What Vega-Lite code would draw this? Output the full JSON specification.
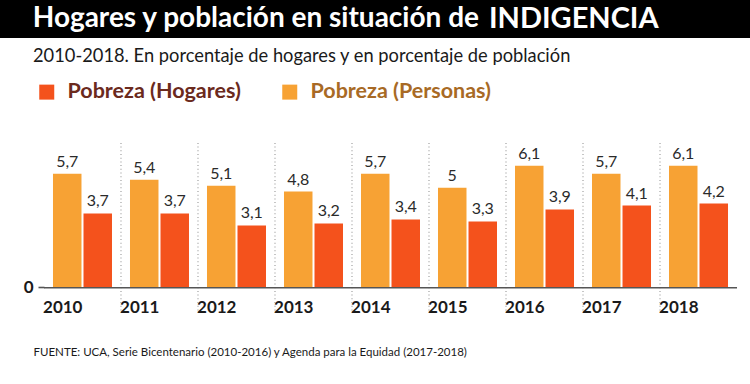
{
  "$schema": "https://vega.github.io/schema/vega-lite/v6.json",
  "padding": 0,
  "background": "white",
  "spacing": 8,
  "config": {
    "view": {"stroke": null},
    "font": "Lato",
    "locale": {"number": {"decimal": ",", "thousands": ".", "grouping": [3], "currency": ["$", ""]}}
  },
  "datasets": {
    "ind": [
      {"year": "2010", "serie": "Pobreza (Personas)", "v": 5.7},
      {"year": "2010", "serie": "Pobreza (Hogares)", "v": 3.7},
      {"year": "2011", "serie": "Pobreza (Personas)", "v": 5.4},
      {"year": "2011", "serie": "Pobreza (Hogares)", "v": 3.7},
      {"year": "2012", "serie": "Pobreza (Personas)", "v": 5.1},
      {"year": "2012", "serie": "Pobreza (Hogares)", "v": 3.1},
      {"year": "2013", "serie": "Pobreza (Personas)", "v": 4.8},
      {"year": "2013", "serie": "Pobreza (Hogares)", "v": 3.2},
      {"year": "2014", "serie": "Pobreza (Personas)", "v": 5.7},
      {"year": "2014", "serie": "Pobreza (Hogares)", "v": 3.4},
      {"year": "2015", "serie": "Pobreza (Personas)", "v": 5},
      {"year": "2015", "serie": "Pobreza (Hogares)", "v": 3.3},
      {"year": "2016", "serie": "Pobreza (Personas)", "v": 6.1},
      {"year": "2016", "serie": "Pobreza (Hogares)", "v": 3.9},
      {"year": "2017", "serie": "Pobreza (Personas)", "v": 5.7},
      {"year": "2017", "serie": "Pobreza (Hogares)", "v": 4.1},
      {"year": "2018", "serie": "Pobreza (Personas)", "v": 6.1},
      {"year": "2018", "serie": "Pobreza (Hogares)", "v": 4.2}
    ],
    "seps": [
      {"year": "2010"}, {"year": "2011"}, {"year": "2012"}, {"year": "2013"},
      {"year": "2014"}, {"year": "2015"}, {"year": "2016"}, {"year": "2017"}
    ],
    "years": [
      {"year": "2010"}, {"year": "2011"}, {"year": "2012"}, {"year": "2013"},
      {"year": "2014"}, {"year": "2015"}, {"year": "2016"}, {"year": "2017"}, {"year": "2018"}
    ]
  },
  "vconcat": [
    {
      "width": 750,
      "height": 38,
      "view": {"fill": "#000000", "stroke": null},
      "data": {"values": [{"a": "Hogares y población en situación de", "b": "INDIGENCIA"}]},
      "layer": [
        {
          "mark": {"type": "text", "align": "right", "baseline": "middle", "color": "#ffffff", "font": "Lato", "fontWeight": "bold", "fontSize": 28, "dx": 104},
          "encoding": {"text": {"field": "a"}}
        },
        {
          "mark": {"type": "text", "align": "left", "baseline": "middle", "color": "#ffffff", "font": "Lato", "fontWeight": "bold", "fontSize": 29, "dx": 114},
          "encoding": {"text": {"field": "b"}}
        }
      ]
    },
    {
      "width": 750,
      "height": 159,
      "title": {
        "text": "2010-2018. En porcentaje de hogares y en porcentaje de población",
        "anchor": "start",
        "frame": "group",
        "dx": 33,
        "offset": 62,
        "font": "Lato",
        "fontSize": 18.3,
        "fontWeight": "normal",
        "color": "#1a1a1a"
      },
      "layer": [
        {
          "data": {"name": "seps"},
          "mark": {"type": "rule", "strokeDash": [1, 2.7], "strokeWidth": 1.2, "color": "#a0a0a0"},
          "encoding": {
            "x": {"field": "year", "type": "ordinal", "bandPosition": 1, "title": "FUENTE: UCA, Serie Bicentenario (2010-2016) y Agenda para la Equidad (2017-2018)"},
            "y": {"datum": 7.25, "type": "quantitative"},
            "y2": {"datum": -1.25}
          }
        },
        {
          "data": {"name": "years"},
          "mark": {"type": "bar", "color": "#555555"},
          "encoding": {
            "x": {"field": "year", "type": "ordinal", "title": "FUENTE: UCA, Serie Bicentenario (2010-2016) y Agenda para la Equidad (2017-2018)"},
            "y": {"datum": 0, "type": "quantitative"},
            "y2": {"datum": -0.075}
          }
        },
        {
          "data": {"name": "ind"},
          "mark": {"type": "bar"},
          "encoding": {
            "x": {
              "field": "year",
              "type": "ordinal",
              "title": "FUENTE: UCA, Serie Bicentenario (2010-2016) y Agenda para la Equidad (2017-2018)",
              "scale": {"paddingInner": 0, "paddingOuter": 0.37, "align": 0.772},
              "axis": {
                "domain": false,
                "ticks": false,
                "grid": false,
                "labelAngle": 0,
                "labelPadding": 20,
                "labelFont": "Lato",
                "labelFontSize": 17,
                "labelFontWeight": "bold",
                "labelColor": "#1a1a1a",
                "titleFont": "Lato",
                "titleFontSize": 11.5,
                "titleFontWeight": "normal",
                "titleColor": "#1a1a1a",
                "titleAnchor": "start",
                "titleAlign": "left",
                "titleBaseline": "middle",
                "titleX": 33,
                "titleY": 65
              }
            },
            "xOffset": {
              "field": "serie",
              "type": "nominal",
              "sort": ["Pobreza (Personas)", "Pobreza (Hogares)"],
              "scale": {"paddingInner": 0.066, "paddingOuter": 0.295}
            },
            "y": {
              "field": "v",
              "type": "quantitative",
              "title": null,
              "scale": {"domain": [0, 7.5]},
              "axis": {
                "values": [0],
                "domain": false,
                "grid": false,
                "ticks": true,
                "tickSize": 6,
                "tickWidth": 1.6,
                "tickColor": "#555555",
                "offset": -44,
                "labelPadding": 5,
                "labelFont": "Lato",
                "labelFontSize": 17,
                "labelFontWeight": "bold",
                "labelColor": "#1a1a1a"
              }
            },
            "color": {
              "field": "serie",
              "type": "nominal",
              "scale": {"domain": ["Pobreza (Hogares)", "Pobreza (Personas)"], "range": ["#f4521c", "#f7a234"]},
              "legend": {
                "title": null,
                "orient": "none",
                "legendX": 36,
                "legendY": 81,
                "direction": "horizontal",
                "padding": 0,
                "symbolType": "square",
                "symbolSize": 225,
                "symbolStrokeWidth": 0,
                "symbolOpacity": 1,
                "labelFont": "Lato",
                "labelFontSize": 21.5,
                "labelFontWeight": "bold",
                "labelOffset": 10,
                "columnPadding": 38,
                "labelLimit": 300,
                "encode": {
                  "labels": {"update": {"fill": {"signal": "datum.value === 'Pobreza (Hogares)' ? '#6b2a1d' : '#a86a25'"}}}
                }
              }
            }
          }
        },
        {
          "data": {"name": "ind"},
          "mark": {"type": "text", "baseline": "alphabetic", "dy": -7, "font": "Lato", "fontSize": 16, "color": "#2a2a2a"},
          "encoding": {
            "x": {"field": "year", "type": "ordinal", "title": "FUENTE: UCA, Serie Bicentenario (2010-2016) y Agenda para la Equidad (2017-2018)"},
            "xOffset": {"field": "serie", "type": "nominal", "sort": ["Pobreza (Personas)", "Pobreza (Hogares)"]},
            "y": {"field": "v", "type": "quantitative"},
            "text": {"field": "v", "type": "quantitative", "format": ".2~r"}
          }
        }
      ]
    }
  ]
}
